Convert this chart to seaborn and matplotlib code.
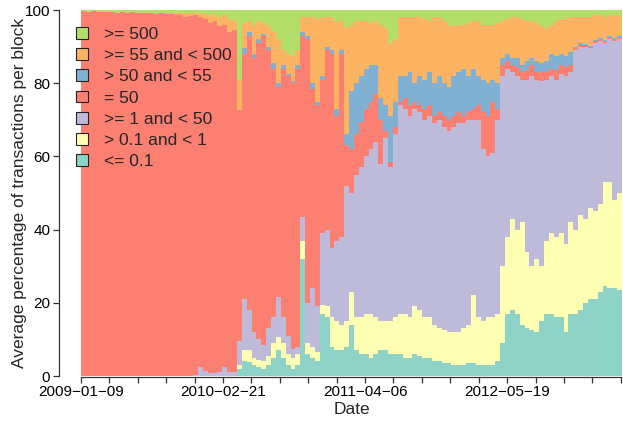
import numpy as np
import pandas as pd
import matplotlib
matplotlib.use("Agg")
import matplotlib.pyplot as plt
import seaborn as sns
from matplotlib.patches import Patch

# Clases de tamaño de transacción (de abajo hacia arriba en la pila)
categorias = ["<= 0.1", "> 0.1 and < 1", ">= 1 and < 50", "= 50",
              "> 50 and < 55", ">= 55 and < 500", ">= 500"]

# Una barra cada 14 días desde la primera fecha
fecha_inicio = "2009-01-09"
etiquetas_x = ["2009\u221201\u221209", "2010\u221202\u221221",
               "2011\u221204\u221206", "2012\u221205\u221219"]

# Porcentaje medio por bloque para cada clase
teal = [0, 0, 0, 0, 0, 0, 0, 0, 0, 0,
        0, 0, 0, 0, 0, 0, 0, 0, 0, 0,
        0, 0, 0, 0, 0, 0, 0, 0, 0, 0,
        0, 0, 2, 4, 3.9, 3, 2.5, 2, 3, 5,
        7, 5, 3, 2, 3, 32, 6, 5, 4, 17,
        16, 8, 7, 7, 8, 14, 7, 6, 6, 5,
        6, 7, 7, 6, 6, 6, 5, 5, 6, 5.5,
        5, 5, 4, 4, 3.5, 3.5, 3, 3, 3, 3.5,
        3.5, 3, 3, 3, 3, 4, 9, 17, 18, 17,
        14, 13, 12.5, 12, 15, 17, 17, 16, 16, 12,
        17, 17, 18, 20, 21, 21, 23, 24.5, 24, 24, 23.5]

amarillo = [0, 0, 0, 0, 0, 0, 0, 0, 0, 0,
            0, 0, 0, 0, 0, 0, 0, 0, 0, 0,
            0, 0, 0, 0, 0, 0, 0, 0, 0, 0,
            0, 0, 1, 3, 3.1, 2, 2, 2, 2.5, 4,
            3.7, 4, 3, 3, 3, 5, 3, 3, 2.5, 2.5,
            3, 8, 8, 7, 7, 9, 9, 10, 11, 12,
            10, 8, 8, 9, 10, 11, 12, 11, 13, 12.5,
            11, 11, 10, 9, 9, 8.5, 9, 9, 10, 10.5,
            18.5, 13, 12, 13, 13, 13, 21, 21, 25, 23,
            28, 21, 17.5, 20, 15, 20, 22, 22, 23, 24,
            25, 23, 26, 23, 25, 24, 24, 28.5, 29, 24, 26.5]

lavanda = [0, 0, 0, 0, 0, 0, 0, 0, 0, 0,
           0, 0, 0, 0, 0, 0, 0, 0, 0, 0,
           0, 0, 0, 0.3, 2.5, 1.5, 0.8, 0.8, 1.0, 2.5,
           1.0, 1.2, 6.5, 14, 11, 7, 5.5, 4.5, 7.5, 7,
           10.8, 7, 5, 2.5, 2, 6.5, 11, 16, 12.5, 19.5,
           21, 19, 22, 24, 37, 27, 39, 41, 43, 45,
           48, 43, 50, 42, 50, 57, 56, 55, 54, 54,
           54, 55, 55, 57, 55.5, 55, 56, 57, 56, 56,
           48, 54, 47, 44, 45, 53, 52, 46, 40, 42,
           39, 47, 52, 49, 50.5, 44, 43, 43, 43.5, 46,
           41, 49, 46, 47, 43.5, 46, 44.5, 38, 39, 43.5, 42]

salmon = [99.6, 99.5, 99.6, 99.5, 99.4, 99.5, 99.4, 99.3, 99.4, 99.3,
          99.4, 99.2, 99.3, 99.1, 99.2, 99.0, 99.1, 98.9, 98.8, 98.6,
          98.5, 98.2, 98.4, 98.2, 95.5, 96.0, 95.7, 96.2, 94.5, 93.5,
          93.0, 93.3, 63.1, 67, 75, 75, 81, 84.5, 76, 68,
          57.5, 68, 71, 72.5, 76, 49.5, 72, 54.5, 55, 42,
          49, 53, 34, 50, 11, 12, 11, 12.5, 13, 13,
          13, 12, 2, 1.5, 2, 1, 3, 3, 2, 2,
          3, 3, 2, 2, 3, 3, 3, 3, 2, 2,
          3, 4, 10, 11, 14, 3, 3, 2, 2, 2.5,
          2, 2.5, 3, 2, 2.5, 2, 2, 2.5, 2.5, 2.5,
          2, 0.5, 0.5, 0.3, 0.3, 0.3, 0.3, 0.3, 0.3, 0.3, 0.3]

azul = [0, 0, 0, 0, 0, 0, 0, 0, 0, 0,
        0, 0, 0, 0, 0, 0, 0, 0, 0, 0,
        0, 0, 0, 0, 0, 0, 0, 0, 0, 0,
        0, 0, 0, 1.5, 1, 1, 1, 0.5, 1, 1.5,
        1, 1, 0.5, 0.5, 1, 1, 1, 1.5, 1, 1,
        1, 1, 2, 1, 3, 16, 14, 12.5, 11, 10,
        8, 6, 7, 12.5, 7, 7, 6, 9, 5, 8,
        8, 9, 9, 10, 9, 9, 11, 11, 13, 10,
        11, 8, 9, 9, 6, 7, 2, 2, 2, 2.5,
        2, 2.5, 2, 3, 2.5, 3, 4, 4, 3, 3,
        3.5, 0.5, 0.5, 0.5, 0.5, 0.5, 0.5, 0.5, 0.5, 0.5, 0.5]

naranja = [0, 0, 0, 0, 0, 0, 0, 0, 0, 0,
           0, 0, 0, 0, 0, 0, 0, 0.2, 0.3, 0.5,
           0.6, 0.9, 0.7, 0.7, 1.0, 1.5, 2.0, 1.8, 2.5, 2.5,
           3.5, 2.5, 8.4, 7, 3, 8, 5, 3, 5.5, 8.5,
           12, 4, 5.5, 7, 4, 4, 5, 18, 22.5, 16,
           8, 9, 24, 8, 29, 18, 17, 15, 13, 11.5,
           12, 20, 21, 20, 17, 16, 16, 15, 18, 16,
           16.5, 14, 18, 16, 17, 17, 13.5, 13, 12, 14.5,
           13, 15, 15, 16, 15, 16.5, 10, 9.5, 11, 11,
           12.5, 11, 10, 10.5, 10, 9, 8, 9.5, 9.5, 10,
           9.5, 8, 7, 7.2, 7.7, 6.7, 6.2, 6.2, 5.7, 6.2, 5.7]

verde = [0.4, 0.5, 0.4, 0.5, 0.6, 0.5, 0.6, 0.7, 0.6, 0.7,
         0.6, 0.8, 0.7, 0.9, 0.8, 1.0, 0.9, 0.9, 0.9, 0.9,
         0.9, 0.9, 0.9, 0.8, 1.0, 1.0, 1.5, 1.2, 2.0, 1.5,
         2.5, 3.0, 19, 3.5, 3, 4, 3, 3.5, 4.5, 6,
         8, 11, 12, 12.5, 11, 2, 2, 2, 2.5, 2,
         2, 2, 3, 3, 5, 4, 3, 3, 3, 3.5,
         3, 4, 5, 9, 8, 2, 2, 2, 2, 2,
         2.5, 3, 2, 2, 3, 4, 4.5, 4, 4, 3.5,
         3, 3, 4, 4, 4, 3.5, 3, 2.5, 2, 2,
         2.5, 3, 3, 3.5, 4.5, 5, 4, 3, 2.5, 2.5,
         2, 2, 2, 2, 2, 1.5, 1.5, 2, 1.5, 1.5, 1.5]

# Estilo
sns.set_theme(style="ticks")
plt.rcParams["font.family"] = ["Liberation Sans", "DejaVu Sans"]
tam = 12.5
tam_ticks = 13.5

fig = plt.figure(figsize=(6.23, 4.22), dpi=100)
ax = fig.add_axes([0.130, 0.109, 0.8684, 0.8673])

# Eje x en días desde la primera fecha
fechas = pd.date_range(fecha_inicio, periods=len(salmon), freq="14D")
dias = (fechas - fechas[0]).days.to_numpy()
ancho = 14

capas = [teal, amarillo, lavanda, salmon, azul, naranja, verde]
colores = sns.color_palette("Set3", 7)

base = np.zeros(len(dias))
for valores, color in zip(capas, colores):
    valores = np.array(valores, dtype=float)
    ax.bar(dias, valores, width=ancho, bottom=base, align="edge",
           color=color, linewidth=0)
    base = base + valores

ax.set_xlim(0, len(dias) * ancho)
ax.set_ylim(0, 100)

# Ticks cada 81.6 días, etiqueta cada 5
paso = 81.6
pos_ticks = np.arange(20) * paso
ax.set_xticks(pos_ticks)
lab = [""] * len(pos_ticks)
for k, texto in enumerate(etiquetas_x):
    lab[k * 5] = texto
ax.set_xticklabels(lab, fontsize=tam_ticks)
ax.set_yticks([0, 20, 40, 60, 80, 100])
ax.set_yticklabels(["0", "20", "40", "60", "80", "100"], fontsize=tam_ticks)

# Ejes estilo R
sns.despine(ax=ax)
ax.spines["left"].set_position(("outward", 15.8))
ax.spines["bottom"].set_position(("outward", 0.7))
ax.spines["left"].set_bounds(0, 100)
ax.spines["bottom"].set_bounds(pos_ticks[0], pos_ticks[-1])
for s in ["left", "bottom"]:
    ax.spines[s].set_color("#333333")
    ax.spines[s].set_linewidth(0.9)
ax.tick_params(axis="both", direction="out", length=4.3, width=0.9,
               color="#333333", labelcolor="black")
ax.tick_params(axis="x", pad=1.5)
ax.tick_params(axis="y", pad=2)

ax.set_xlabel("Date", fontsize=tam)
ax.set_ylabel("Average percentage of transactions per block", fontsize=tam)
ax.xaxis.set_label_coords(0.501, -0.071)
ax.yaxis.set_label_coords(-0.0998, 0.5)

# Leyenda (de arriba hacia abajo)
handles = [Patch(facecolor=c, edgecolor="#222222", linewidth=0.8)
           for c in colores][::-1]
ax.legend(handles, categorias[::-1], loc="upper left",
          bbox_to_anchor=(-0.009, 0.954), frameon=False, fontsize=tam,
          handlelength=0.7, handleheight=0.65, handletextpad=0.9,
          labelspacing=0.36, borderpad=0, borderaxespad=0)

fig.savefig("out.png", dpi=100)
